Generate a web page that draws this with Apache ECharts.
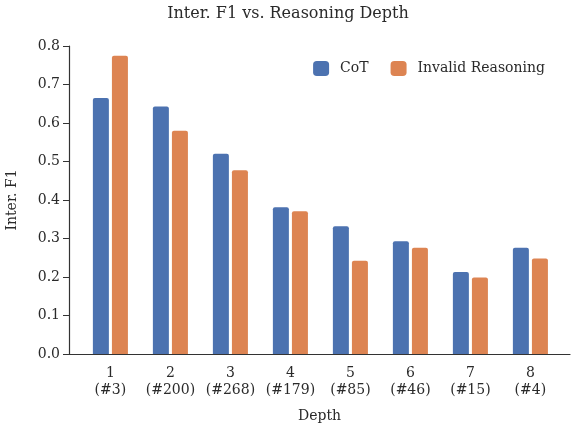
<!DOCTYPE html>
<html>
<head>
<meta charset="utf-8">
<script src="https://cdn.jsdelivr.net/npm/echarts@6/dist/echarts.min.js"></script>
<style>html,body{margin:0;padding:0;background:#fff}#c{width:576px;height:426px}</style>
</head>
<body>
<div id="c"></div>
<script>
const depths = [1, 2, 3, 4, 5, 6, 7, 8];
const counts = ['#3', '#200', '#268', '#179', '#85', '#46', '#15', '#4'];
const cotValues = [0.665, 0.643, 0.520, 0.381, 0.332, 0.293, 0.213, 0.276];
const invalidValues = [0.775, 0.580, 0.477, 0.371, 0.242, 0.276, 0.199, 0.248];
const yTicks = [0, 0.1, 0.2, 0.3, 0.4, 0.5, 0.6, 0.7, 0.8];

const FONT = 'DejaVu Serif';
const TXT = '#2a2a2a';
const chart = echarts.init(document.getElementById('c'), null, {renderer: 'canvas'});
chart.setOption({
  animation: false,
  backgroundColor: '#fff',
  textStyle: {fontFamily: FONT, color: TXT},
  title: {
    text: 'Inter. F1 vs. Reasoning Depth',
    left: 'center', top: 1,
    textStyle: {fontFamily: FONT, fontSize: 16, fontWeight: 'normal', color: TXT}
  },
  legend: {
    data: ['CoT', 'Invalid Reasoning'],
    right: 26, top: 56,
    itemWidth: 16, itemHeight: 15, itemGap: 22,
    icon: 'roundRect',
    textStyle: {fontFamily: FONT, fontSize: 14, color: TXT, padding: [0, 0, 0, 6]}
  },
  grid: {left: 69, right: 6, top: 46, bottom: 72, containLabel: false, outerBoundsMode: 'none'},
  xAxis: {
    type: 'value',
    min: 0.31, max: 8.66,
    name: 'Depth', nameLocation: 'middle', nameGap: 55,
    nameTextStyle: {fontFamily: FONT, fontSize: 14, color: TXT},
    splitLine: {show: false},
    axisLine: {show: true, lineStyle: {color: '#333', width: 1.2}},
    axisTick: {show: false, customValues: depths},
    axisLabel: {
      customValues: depths,
      formatter: v => v + '\n(' + counts[depths.indexOf(v)] + ')',
      fontFamily: FONT, fontSize: 14, color: TXT, lineHeight: 17, margin: 11
    }
  },
  yAxis: {
    type: 'value', min: 0, max: 0.8, interval: 0.1,
    name: 'Inter. F1', nameLocation: 'middle', nameGap: 50,
    nameTextStyle: {fontFamily: FONT, fontSize: 14, color: TXT},
    splitLine: {show: false},
    axisLine: {show: true, lineStyle: {color: '#333', width: 1.2}},
    axisTick: {show: true, length: 6, lineStyle: {color: '#333'}},
    axisLabel: {
      formatter: v => v.toFixed(1),
      fontFamily: FONT, fontSize: 14, color: TXT, margin: 9
    }
  },
  series: [
    {
      name: 'CoT', type: 'bar',
      data: depths.map((d, i) => [d, cotValues[i]]),
      barWidth: 16, barGap: '19%',
      itemStyle: {color: '#4c72b0', borderRadius: [2, 2, 0, 0]}
    },
    {
      name: 'Invalid Reasoning', type: 'bar',
      data: depths.map((d, i) => [d, invalidValues[i]]),
      barWidth: 16, barGap: '19%',
      itemStyle: {color: '#dd8452', borderRadius: [2, 2, 0, 0]}
    }
  ]
});
</script>
</body>
</html>
